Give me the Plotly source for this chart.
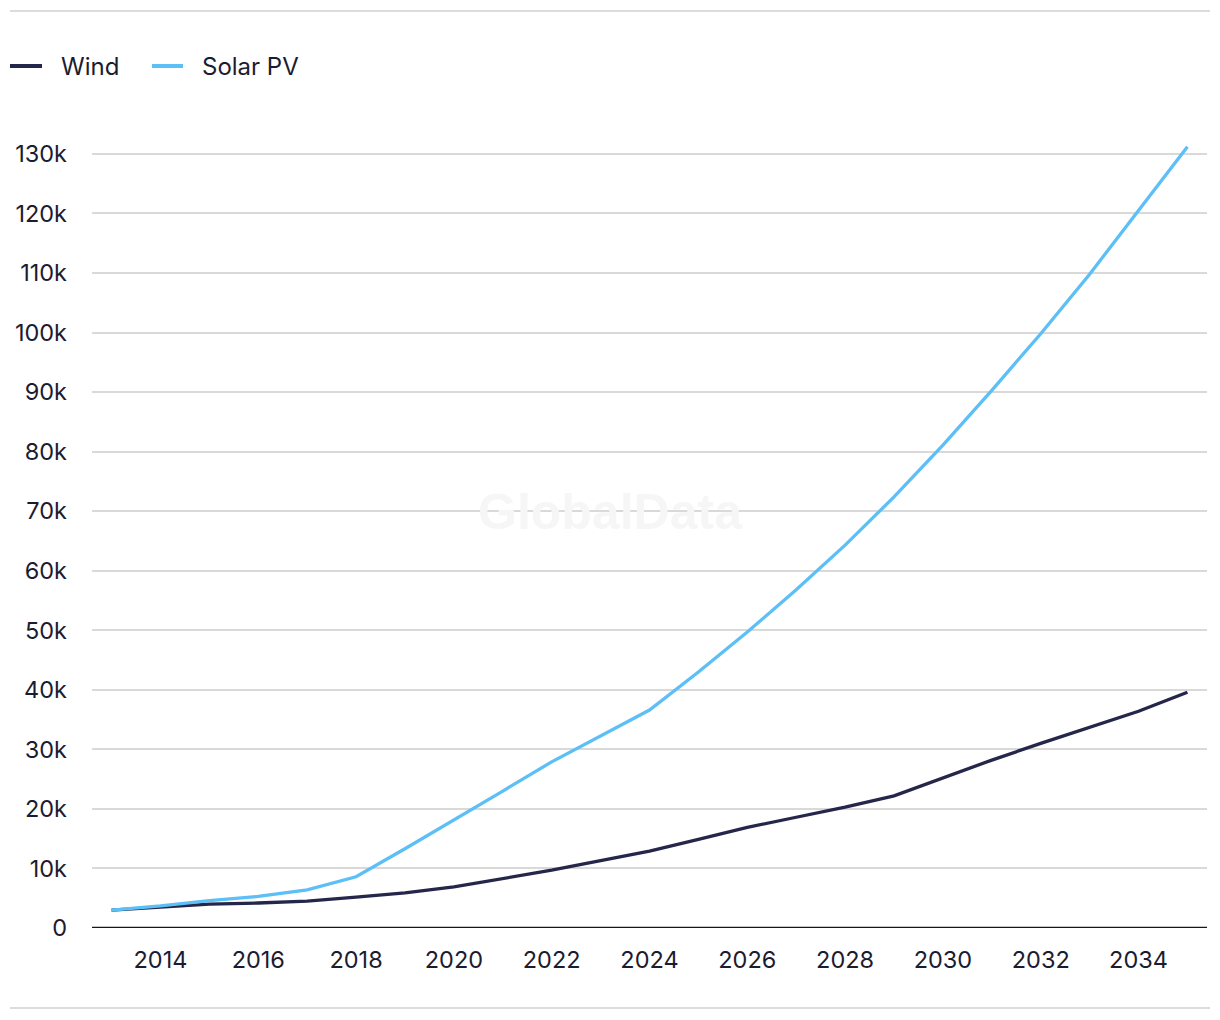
import plotly.graph_objects as go

years = list(range(2013, 2036))
wind = [3.0, 3.5, 4.0, 4.2, 4.5, 5.2, 5.9, 6.9, 8.3, 9.7, 11.3, 12.9, 14.9, 16.9, 18.6,
        20.3, 22.2, 25.2, 28.2, 31.0, 33.7, 36.4, 39.6]
solar = [3.0, 3.7, 4.6, 5.3, 6.4, 8.6, 13.3, 18.1, 23.0, 27.9, 32.2, 36.6, 43.0, 49.7,
         56.8, 64.3, 72.4, 81.1, 90.3, 99.8, 109.8, 120.4, 131.2]
wind = [v * 1000 for v in wind]
solar = [v * 1000 for v in solar]
ytick_vals = [i * 10000 for i in range(14)]
ytick_text = ["0"] + [f"{i*10}k" for i in range(1, 14)]
xtick_vals = list(range(2014, 2036, 2))
series_names = ["Wind", "Solar PV"]
series_colors = ["#24264a", "#5cbff6"]

FONT = "Inter, Noto Sans, sans-serif"
TXT = "#1c1c30"

fig = go.Figure()
fig.add_trace(go.Scatter(x=years, y=wind, mode="lines", name=series_names[0],
                         line=dict(color=series_colors[0], width=3.3)))
fig.add_trace(go.Scatter(x=years, y=solar, mode="lines", name=series_names[1],
                         line=dict(color=series_colors[1], width=3.3)))

W, H = 1220, 1020
L, R, T, B = 92, 13, 142, 92
pw, ph = W - L - R, H - T - B

def px(xp):
    return (xp - L) / pw

def py(yp):
    return (H - B - yp) / ph

shapes = [
    dict(type="line", xref="paper", yref="paper", x0=px(10), x1=px(1210),
         y0=py(11), y1=py(11), line=dict(color="#dcdcdc", width=2)),
    dict(type="line", xref="paper", yref="paper", x0=px(10), x1=px(1210),
         y0=py(1008), y1=py(1008), line=dict(color="#dcdcdc", width=2)),
    dict(type="line", xref="paper", yref="y", x0=0, x1=1, y0=0, y1=0,
         line=dict(color="#15152a", width=2.5), layer="above"),
]
annotations = [
    dict(text="<b>GlobalData</b>", xref="paper", yref="paper", x=px(610), y=py(512),
         showarrow=False, font=dict(size=50, color="#f6f6f6",
                                    family="Liberation Sans, Arial, sans-serif"))
]
# manual legend
leg_items = [(10, 42, 59), (152, 183, 200)]
for (x0, x1, tx), name, col in zip(leg_items, series_names, series_colors):
    shapes.append(dict(type="line", xref="paper", yref="paper", x0=px(x0), x1=px(x1),
                       y0=py(66), y1=py(66), line=dict(color=col, width=4)))
    annotations.append(dict(text=name, xref="paper", yref="paper", x=px(tx), y=py(67),
                            xanchor="left", yanchor="middle", showarrow=False,
                            font=dict(size=24, color=TXT, family=FONT)))

fig.update_layout(
    width=W, height=H,
    margin=dict(l=L, r=R, t=T, b=B),
    paper_bgcolor="white", plot_bgcolor="white",
    font=dict(family=FONT, size=23, color=TXT),
    showlegend=False,
    xaxis=dict(range=[2012.6, 2035.4], tickvals=xtick_vals, showgrid=False,
               showline=False, zeroline=False, ticks="", ticklabelstandoff=15,
               tickfont=dict(size=23.5, color=TXT), fixedrange=True),
    yaxis=dict(range=[0, 132000], tickvals=ytick_vals, ticktext=ytick_text,
               showgrid=True, gridcolor="#d9d9d9", gridwidth=2, zeroline=False,
               showline=False, ticks="", ticklabelstandoff=24,
               tickfont=dict(size=23.5, color=TXT), fixedrange=True),
    shapes=shapes,
    annotations=annotations,
)

fig.write_html("out.html", config={"displayModeBar": False},
               post_script="document.body.style.margin='0';document.body.style.overflow='hidden';")
